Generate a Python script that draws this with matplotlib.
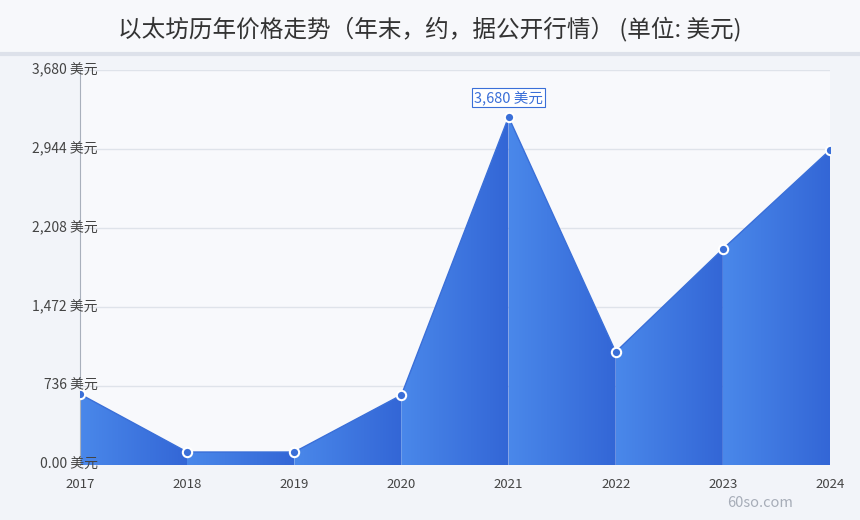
import numpy as np
import matplotlib
matplotlib.use("Agg")
import matplotlib.pyplot as plt
from matplotlib.colors import LinearSegmentedColormap
from matplotlib.patches import Polygon

plt.rcParams['font.family'] = ['Noto Sans CJK SC', 'DejaVu Sans']

years = ["2017", "2018", "2019", "2020", "2021", "2022", "2023", "2024"]
prices = [661, 121, 121, 652, 3242, 1053, 2012, 2935]
y_ticks = [0, 736, 1472, 2208, 2944, 3680]
y_tick_labels = ["0.00 美元", "736 美元", "1,472 美元", "2,208 美元", "2,944 美元", "3,680 美元"]
peak_label = "3,680 美元"
title = "以太坊历年价格走势（年末，约，据公开行情） (单位: 美元)"

fig = plt.figure(figsize=(8.6, 5.2), dpi=100)
fig.patch.set_facecolor("#f2f4f9")

# title band
band = fig.add_axes([0, 1 - 53 / 520, 1, 53 / 520])
band.set_facecolor("#f7f8fb")
band.set_xticks([])
band.set_yticks([])
for s in band.spines.values():
    s.set_visible(False)
fig.add_artist(plt.Line2D([0, 1], [1 - 54 / 520, 1 - 54 / 520], color="#dde1ea", lw=3))
fig.text(0.5, 1 - 29 / 520, title, ha="center", va="center", fontsize=17, color="#333333")

ax = fig.add_axes([80 / 860, 55 / 520, 750 / 860, 395 / 520])
ax.set_facecolor("#f8f9fc")
x = np.arange(len(years))
ax.set_xlim(0, len(years) - 1)
ax.set_ylim(0, 3680)

cmap = LinearSegmentedColormap.from_list("seg", ["#4a88ea", "#3366d6"])
grad = np.linspace(0, 1, 256).reshape(1, -1)
for i in range(len(years) - 1):
    poly = Polygon([(x[i], 0), (x[i], prices[i]), (x[i + 1], prices[i + 1]), (x[i + 1], 0)],
                   closed=True, facecolor="none", edgecolor="none")
    ax.add_patch(poly)
    im = ax.imshow(grad, cmap=cmap, aspect="auto", extent=[x[i], x[i + 1], 0, 3680],
                   zorder=2, interpolation="bilinear")
    im.set_clip_path(poly)

ax.plot(x, prices, color="#3a6fd8", lw=1, zorder=3)
ax.scatter(x, prices, s=45, color="#3a6fd8", edgecolor="white", linewidth=1.5, zorder=4)

peak = int(np.argmax(prices))
ax.annotate(peak_label, (x[peak], prices[peak]), xytext=(0, 14), textcoords="offset points",
            ha="center", va="center", fontsize=10.5, color="#3a6fd8",
            bbox=dict(boxstyle="square,pad=0.15", fc="white", ec="#3a6fd8", lw=0.8), zorder=5)

ax.set_yticks(y_ticks)
ax.set_yticklabels([])
for v, lab in zip(y_ticks, y_tick_labels):
    ax.text(0.024, v, lab, transform=ax.get_yaxis_transform(), ha="right", va="center",
            fontsize=10, color="#444444", zorder=6)
ax.tick_params(axis="y", length=0)
ax.grid(axis="y", color="#dfe3ea", lw=1, zorder=1)
ax.set_axisbelow(True)

ax.set_xticks(x)
ax.set_xticklabels(years, fontsize=9.5, color="#444444")
ax.tick_params(axis="x", length=0, pad=9)

for s in ["top", "right", "bottom"]:
    ax.spines[s].set_visible(False)
ax.spines["left"].set_color("#a9b0bc")
ax.spines["left"].set_linewidth(0.8)

fig.text(760 / 860, 1 - 503 / 520, "60so.com", ha="center", va="center", fontsize=10.5, color="#a7adb8")

fig.savefig("out.png", dpi=100, facecolor=fig.get_facecolor())
